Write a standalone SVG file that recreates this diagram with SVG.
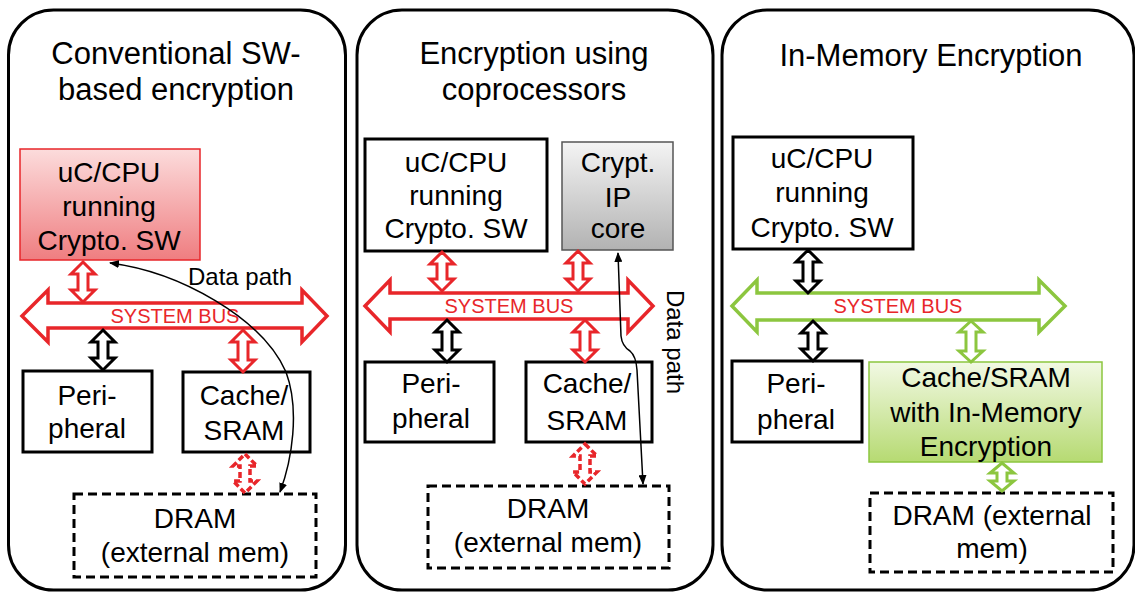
<svg xmlns="http://www.w3.org/2000/svg" width="1135" height="592" viewBox="0 0 1135 592">
<style>
text{font-family:"Liberation Sans",Arial,sans-serif;fill:#000}
.title{font-size:31px;text-anchor:middle}
.nt{font-size:28px;text-anchor:middle}
.bus-t{font-size:20px;fill:#e8262a;text-anchor:middle}
.dp{font-size:24px}
.panel{fill:#fff;stroke:#000;stroke-width:3}
.box{fill:#fff;stroke:#000;stroke-width:3}
.dram{fill:#fff;stroke:#000;stroke-width:3;stroke-dasharray:9 5}
.rbus{fill:#fff;stroke:#e8262a;stroke-width:3.5;stroke-linejoin:miter}
.gbus{fill:#fff;stroke:#8cc63f;stroke-width:3.5}
.ra{fill:#fff;stroke:#e8262a;stroke-width:3}
.rad{fill:#fff;stroke:#e8262a;stroke-width:3.5;stroke-dasharray:6 3}
.ba{fill:#fff;stroke:#000;stroke-width:3}
.ga{fill:#fff;stroke:#8cc63f;stroke-width:3}
.path{fill:none;stroke:#000;stroke-width:1.5;marker-start:url(#ah);marker-end:url(#ah)}
</style>
<defs>
<linearGradient id="redG" x1="0" y1="0" x2="0" y2="1"><stop offset="0" stop-color="#fcdcdc"/><stop offset="1" stop-color="#ef7d80"/></linearGradient>
<linearGradient id="grayG" x1="0" y1="0" x2="0" y2="1"><stop offset="0" stop-color="#f4f4f4"/><stop offset="1" stop-color="#b2b2b2"/></linearGradient>
<linearGradient id="greenG" x1="0" y1="0" x2="0" y2="1"><stop offset="0" stop-color="#f2f9e4"/><stop offset="1" stop-color="#b6da72"/></linearGradient>
<marker id="ah" viewBox="0 0 10 8" refX="9" refY="4" markerWidth="10" markerHeight="8" markerUnits="userSpaceOnUse" orient="auto-start-reverse"><path d="M0,0 L10,4 L0,8 z" fill="#000"/></marker>
</defs>

<g id="panel1">
<rect class="panel" x="8.5" y="10" width="337" height="580" rx="45"/>
<text class="title" x="176" y="64">Conventional SW-</text>
<text class="title" x="176" y="100">based encryption</text>
</g>
<g id="panel2">
<rect class="panel" x="357" y="10" width="356" height="580" rx="45"/>
<text class="title" x="534" y="64">Encryption using</text>
<text class="title" x="534" y="100">coprocessors</text>
</g>
<g id="panel3">
<rect class="panel" x="722" y="10" width="412" height="580" rx="45"/>
<text class="title" x="931" y="66">In-Memory Encryption</text>
</g>

<g id="p1-cpu">
<rect x="20" y="149" width="180" height="111" fill="url(#redG)" stroke="#e8262a" stroke-width="1.5"/>
<text class="nt" x="109" y="182">uC/CPU</text>
<text class="nt" x="109" y="216">running</text>
<text class="nt" x="109" y="250">Crypto. SW</text>
</g>
<g id="p1-bus">
<polygon class="rbus" points="22,316 48,290 48,303 302,303 302,290 327,316 302,342 302,328 48,328 48,342"/>
<text class="bus-t" x="175" y="323">SYSTEM BUS</text>
</g>
<g id="p1-peripheral">
<rect class="box" x="23" y="371" width="129" height="81"/>
<text class="nt" x="87" y="405">Peri-</text>
<text class="nt" x="87" y="438">pheral</text>
</g>
<g id="p1-cache">
<rect class="box" x="183" y="372" width="127" height="80"/>
<text class="nt" x="244" y="405">Cache/</text>
<text class="nt" x="244" y="440">SRAM</text>
</g>
<g id="p1-dram">
<rect class="dram" x="74" y="494" width="242" height="83"/>
<text class="nt" x="195" y="528">DRAM</text>
<text class="nt" x="195" y="562">(external mem)</text>
</g>

<g id="p2-cpu">
<rect class="box" x="365" y="139" width="182" height="112"/>
<text class="nt" x="456" y="172">uC/CPU</text>
<text class="nt" x="456" y="205">running</text>
<text class="nt" x="456" y="238">Crypto. SW</text>
</g>
<g id="p2-ip">
<rect x="562" y="142" width="111" height="108" fill="url(#grayG)" stroke="#555" stroke-width="1.5"/>
<text class="nt" x="618" y="172">Crypt.</text>
<text class="nt" x="618" y="207">IP</text>
<text class="nt" x="618" y="238">core</text>
</g>
<g id="p2-bus">
<polygon class="rbus" points="365,306 390,280 390,293 628,293 628,280 653,306 628,332 628,319 390,319 390,332"/>
<text class="bus-t" x="509" y="313">SYSTEM BUS</text>
</g>
<g id="p2-peripheral">
<rect class="box" x="365" y="362" width="129" height="80"/>
<text class="nt" x="431" y="393">Peri-</text>
<text class="nt" x="431" y="428">pheral</text>
</g>
<g id="p2-cache">
<rect class="box" x="526" y="362" width="126" height="80"/>
<text class="nt" x="587" y="393">Cache/</text>
<text class="nt" x="587" y="430">SRAM</text>
</g>
<g id="p2-dram">
<rect class="dram" x="428" y="486" width="241" height="82"/>
<text class="nt" x="548" y="518">DRAM</text>
<text class="nt" x="548" y="552">(external mem)</text>
</g>

<g id="p3-cpu">
<rect class="box" x="733" y="137" width="180" height="112"/>
<text class="nt" x="822" y="168">uC/CPU</text>
<text class="nt" x="822" y="202">running</text>
<text class="nt" x="822" y="237">Crypto. SW</text>
</g>
<g id="p3-bus">
<polygon class="gbus" points="732,306 757,280 757,293 1039,293 1039,280 1065,306 1039,332 1039,320 757,320 757,332"/>
<text class="bus-t" x="898" y="313">SYSTEM BUS</text>
</g>
<g id="p3-peripheral">
<rect class="box" x="732" y="361" width="130" height="81"/>
<text class="nt" x="796" y="393">Peri-</text>
<text class="nt" x="796" y="429">pheral</text>
</g>
<g id="p3-cache">
<rect x="869" y="362" width="233" height="100" fill="url(#greenG)" stroke="#8cc63f" stroke-width="1.5"/>
<text class="nt" x="986" y="387">Cache/SRAM</text>
<text class="nt" x="986" y="422">with In-Memory</text>
<text class="nt" x="986" y="456">Encryption</text>
</g>
<g id="p3-dram">
<rect class="dram" x="870" y="493" width="243" height="79"/>
<text class="nt" x="992" y="525">DRAM (external</text>
<text class="nt" x="992" y="558">mem)</text>
</g>

<g id="connectors">
<!-- panel 1 -->
<polygon class="ra" points="83,262 95,274 88,274 88,290 95,290 83,302 71,290 78,290 78,274 71,274"/>
<polygon class="ba" points="103,330 115,342 108,342 108,358 115,358 103,370 91,358 98,358 98,342 91,342"/>
<polygon class="ra" points="243,330 255,342 248,342 248,360 255,360 243,372 231,360 238,360 238,342 231,342"/>
<polygon class="rad" points="245,454 257,466 250,466 250,481 257,481 245,493 233,481 240,481 240,466 233,466"/>
<path class="path" d="M110,263 C180,272 262,318 286,372 C300,410 292,460 280,492"/>
<text class="dp" x="188" y="285">Data path</text>
<!-- panel 2 -->
<polygon class="ra" points="442,252 454,264 447,264 447,279 454,279 442,291 430,279 437,279 437,264 430,264"/>
<polygon class="ra" points="578,251 590,263 583,263 583,279 590,279 578,291 566,279 573,279 573,263 566,263"/>
<polygon class="ba" points="447,320 459,332 452,332 452,350 459,350 447,362 435,350 442,350 442,332 435,332"/>
<polygon class="ra" points="585,320 597,332 590,332 590,350 597,350 585,362 573,350 580,350 580,332 573,332"/>
<polygon class="rad" points="585,444 597,456 590,456 590,472 597,472 585,484 573,472 580,472 580,456 573,456"/>
<path class="path" d="M618,253 L621,336 Q622,346 630,351 Q636,356 637,370 L643,484"/>
<text class="dp" transform="translate(667,290) rotate(90)">Data path</text>
<!-- panel 3 -->
<polygon class="ba" points="808,250 820,262 813,262 813,281 820,281 808,293 796,281 803,281 803,262 796,262"/>
<polygon class="ba" points="813,321 825,333 818,333 818,349 825,349 813,361 801,349 808,349 808,333 801,333"/>
<polygon class="ga" points="971,321 983,332 976,332 976,351 983,351 971,362 959,351 966,351 966,332 959,332"/>
<polygon class="ga" points="1002,463 1014,473 1007,473 1007,481 1014,481 1002,491 990,481 997,481 997,473 990,473"/>
</g>
</svg>
